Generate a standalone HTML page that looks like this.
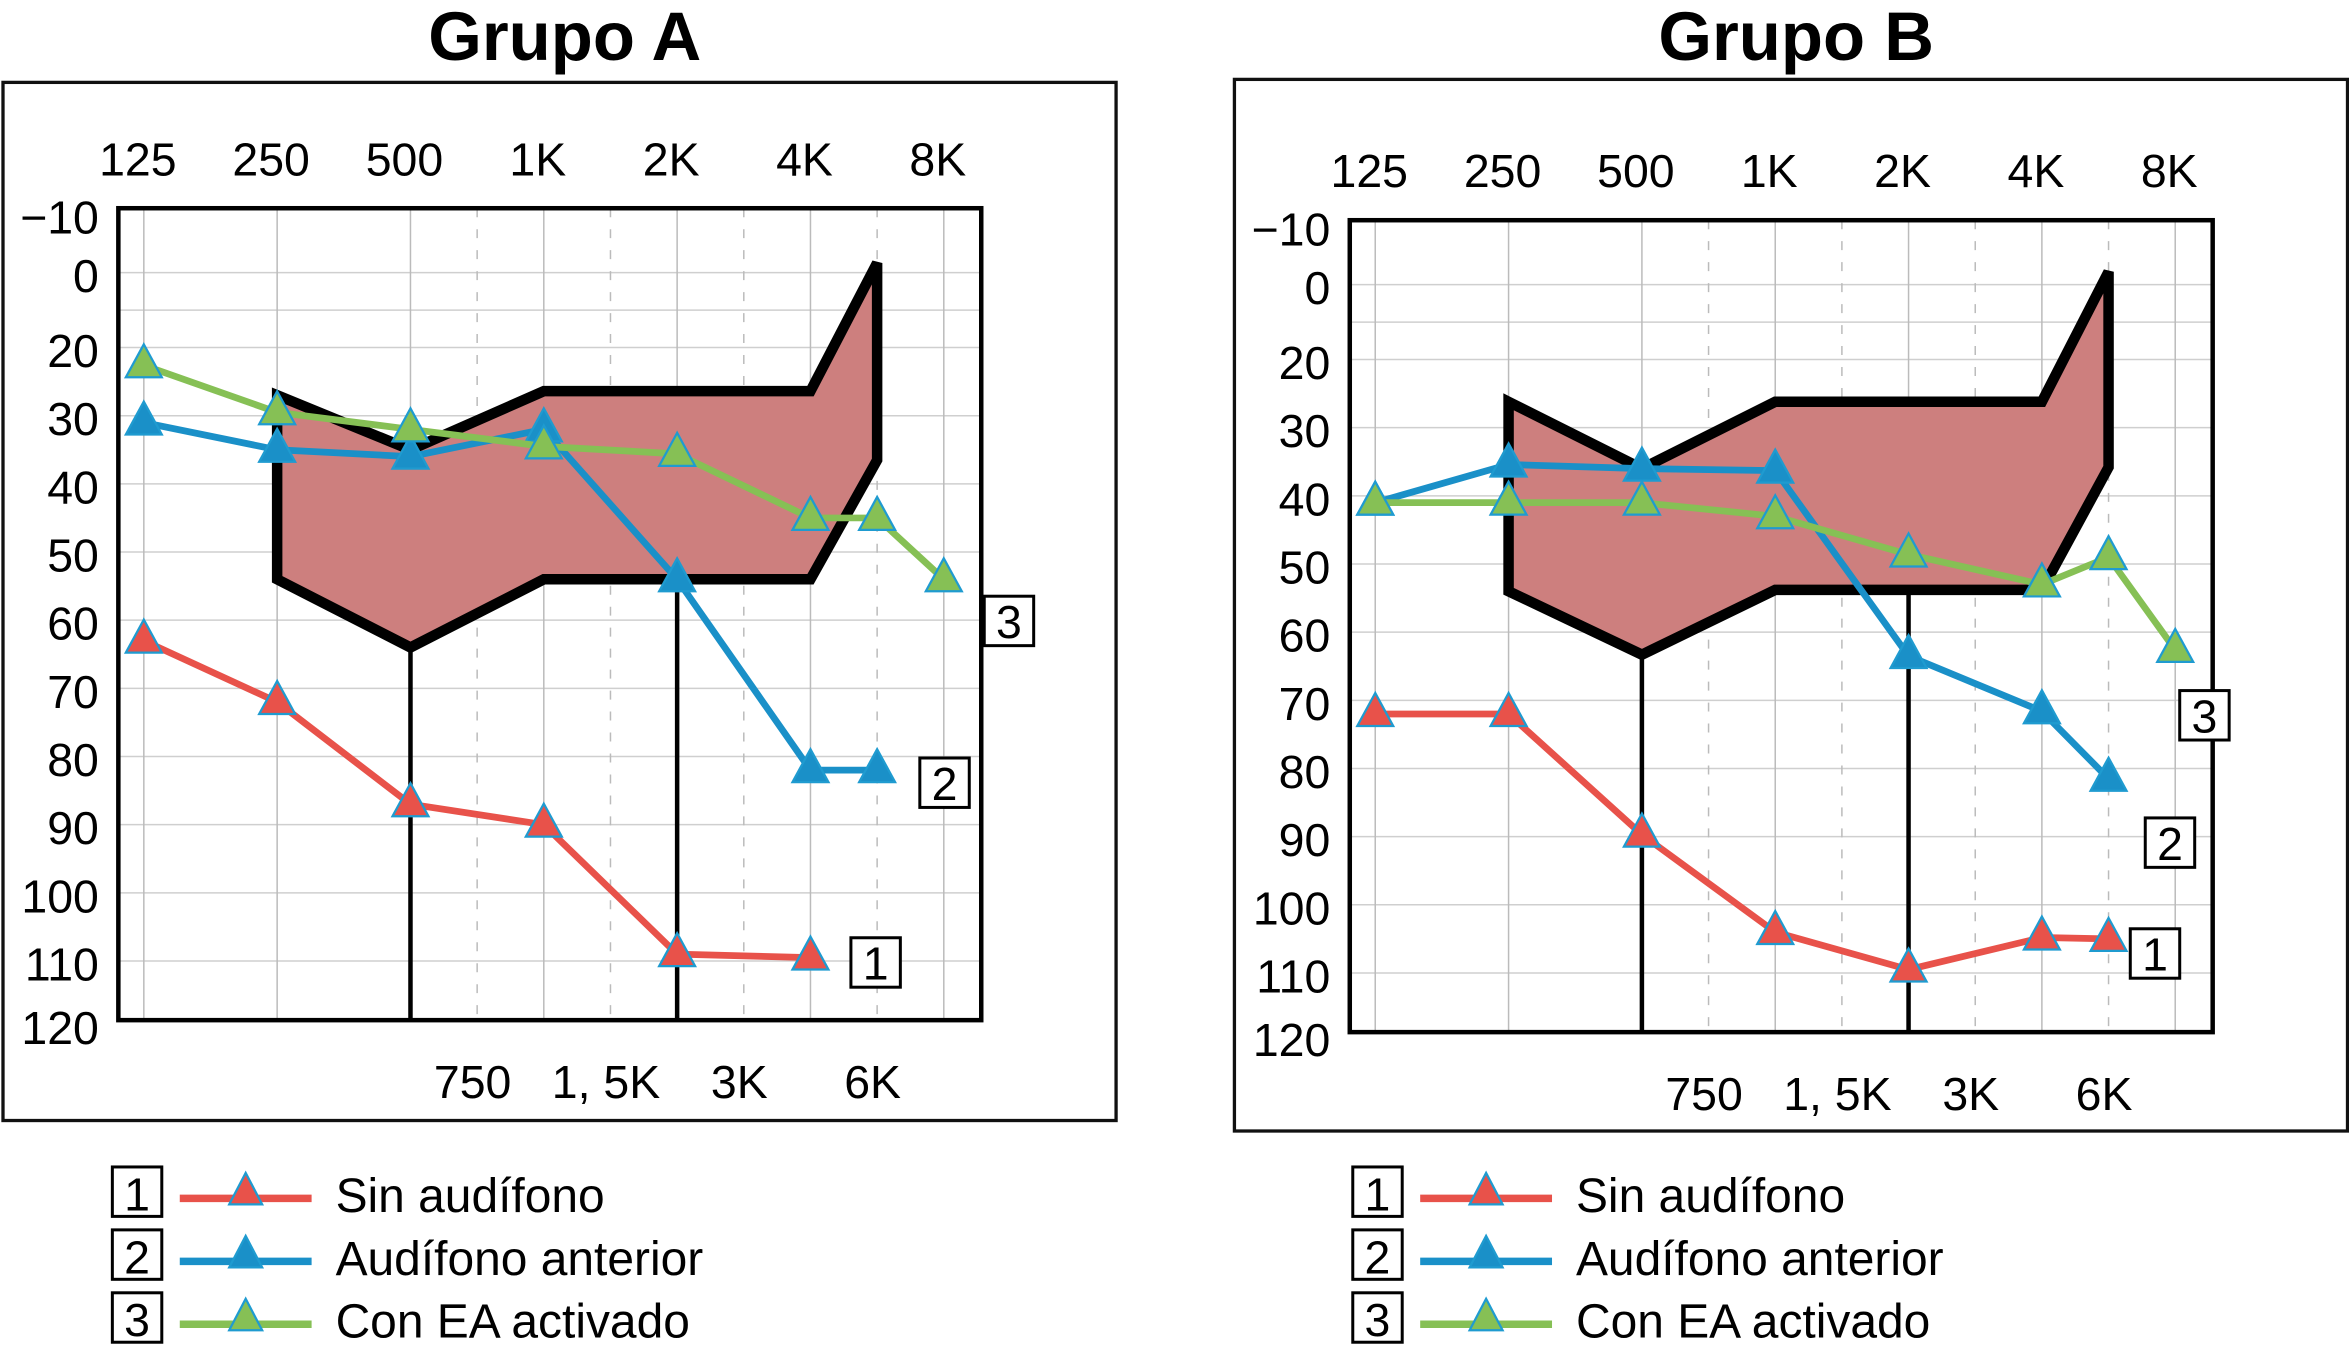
<!DOCTYPE html>
<html><head><meta charset="utf-8">
<style>
html,body{margin:0;padding:0;background:#fff;}
svg{display:block;font-family:"Liberation Sans",Arial,sans-serif;}
</style></head>
<body>
<svg id="chart" xmlns="http://www.w3.org/2000/svg" width="2349" height="1362" viewBox="0 0 1568 909.2" preserveAspectRatio="none">
</svg>
<script>
// frequency index (half-octave steps): 125=0,250=2,500=4,750=5,1K=6,1.5K=7,2K=8,3K=9,4K=10,6K=11,8K=12
const topFreqLabels = ["125","250","500","1K","2K","4K","8K"];
const topFreqIdx = [0,2,4,6,8,10,12];
const bottomFreqLabels = ["750","1, 5K","3K","6K"];
const bottomFreqIdx = [5,7,9,11];
const yTickLabels = ["\u221210","0","20","30","40","50","60","70","80","90","100","110","120"];
const yTickValues = [-10,0,20,30,40,50,60,70,80,90,100,110,120];
const gridDb = [0,10,20,30,40,50,60,70,80,90,100,110];

// Grupo A
const aRedIdx = [0,2,4,6,8,10];
const aRedDb = [63,72,87,90,109,109.5];
const aBlueIdx = [0,2,4,6,8,10,11];
const aBlueDb = [31,35,36,32,54,82,82];
const aGreenIdx = [0,2,4,6,8,10,11,12];
const aGreenDb = [22.6,29.5,32,34.5,35.6,45,45,54];
const aAreaIdx = [2,4,6,10,11,11,10,6,4,2];
const aAreaDb = [27,35,26.4,26.4,-1.5,36.5,54,54,64,54];

// Grupo B
const bRedIdx = [0,2,4,6,8,10,11];
const bRedDb = [72,72,89.7,104,109.5,104.8,105];
const bBlueIdx = [0,2,4,6,8,10,11];
const bBlueDb = [41,35.4,36,36.3,63.5,71.6,81.5];
const bGreenIdx = [0,2,4,6,8,10,11,12];
const bGreenDb = [41,41,41,43,48.6,53,49,62.6];
const bAreaIdx = [2,4,6,10,11,11,10,6,4,2];
const bAreaDb = [26.2,36,26.2,26.2,-2,35.8,53.8,53.8,63.3,54];

const legendLabels = ["Sin aud\u00edfono","Aud\u00edfono anterior","Con EA activado"];
const legendNums = ["1","2","3"];

const NS = "http://www.w3.org/2000/svg";
const svg = document.getElementById("chart");
function mk(tag, attrs, parent, text){
  const e = document.createElementNS(NS, tag);
  for (const k in attrs) e.setAttribute(k, attrs[k]);
  if (text !== undefined) e.textContent = text;
  (parent || svg).appendChild(e);
  return e;
}
const RED = "#e8524a", BLUE = "#1a90c8", GREEN = "#86c055";

function panel(cfg){
  const g = mk("g", {});
  
  
  const ox = cfg.ox, oy = cfg.oy;
  const xs = i => ox + 96 + i * 44.5;
  const ys = v => oy + (v >= 20 ? 232 + (v - 20) * 4.55 : (v >= 0 ? 182 + v * 2.5 : 182 + v * 4.3));

  const title = mk("text", {x: ox + 377, y: 40, "text-anchor":"middle", "font-size":46, "font-weight":"bold"}, g, cfg.title);
  
  

  const frame = mk("rect", {x: ox + 2, y: cfg.fy, width: 743, height: cfg.fh, fill:"none", stroke:"#111", "stroke-width":2.2}, g);
  
  

  const px0 = ox + 79, px1 = ox + 655, py0 = oy + 139, py1 = oy + 681;
  gridDb.forEach(v => {
    const l = mk("line", {x1: px0, x2: px1, y1: ys(v), y2: ys(v), stroke:"#cfcfcf", "stroke-width":1}, g);
    
    
  });
  topFreqIdx.forEach(i => {
    const l = mk("line", {x1: xs(i), x2: xs(i), y1: py0, y2: py1, stroke:"#bbb", "stroke-width":1}, g);
    
    
  });
  bottomFreqIdx.forEach(i => {
    const l = mk("line", {x1: xs(i), x2: xs(i), y1: py0, y2: py1, stroke:"#bbb", "stroke-width":1, "stroke-dasharray":"6,8"}, g);
    
    
  });
  const pts = cfg.areaIdx.map((i, k) => xs(i) + "," + ys(cfg.areaDb[k])).join(" ");
  const area = mk("polygon", {points: pts, fill:"#cd7f7e", stroke:"#000", "stroke-width":7, "stroke-linejoin":"miter"}, g);
  
  
  [[4, cfg.areaDb[8]], [8, cfg.areaDb[6]]].forEach(([i, v]) => {
    const l = mk("line", {x1: xs(i), x2: xs(i), y1: ys(v), y2: py1, stroke:"#000", "stroke-width":3}, g);
    
    
  });
  const pf = mk("rect", {x: px0, y: py0, width: px1 - px0, height: py1 - py0, fill:"none", stroke:"#000", "stroke-width":3}, g);
  
  

  topFreqLabels.forEach((t, k) => {
    const e = mk("text", {x: xs(topFreqIdx[k]) - 4, y: oy + 117, "text-anchor":"middle", "font-size":31}, g, t);
    
    
  });
  bottomFreqLabels.forEach((t, k) => {
    const e = mk("text", {x: xs(bottomFreqIdx[k]) - 3, y: oy + 733, "text-anchor":"middle", "font-size":31}, g, t);
    
    
  });
  yTickLabels.forEach((t, k) => {
    let yy = ys(yTickValues[k]) + 13;
    if (yTickValues[k] === -10) yy = oy + 156;
    if (yTickValues[k] === 120) yy = oy + 697;
    const e = mk("text", {x: ox + 66, y: yy, "text-anchor":"end", "font-size":31}, g, t);
    
    
  });

  const series = [
    [cfg.redIdx, cfg.redDb, RED, "series-sin-audifono"],
    [cfg.blueIdx, cfg.blueDb, BLUE, "series-audifono-anterior"],
    [cfg.greenIdx, cfg.greenDb, GREEN, "series-con-ea"]
  ];
  series.forEach(([idx, db, col, nm]) => {
    const sg = mk("g", {}, g);
    
    
    const p = idx.map((i, k) => xs(i) + "," + ys(db[k])).join(" ");
    const pl = mk("polyline", {points: p, fill:"none", stroke: col, "stroke-width":4.5, "stroke-linejoin":"round"}, sg);
    
    
    idx.forEach((i, k) => {
      const x = xs(i), y = ys(db[k]);
      const tri = mk("polygon", {points: `${x},${y-14} ${x-12},${y+8} ${x+12},${y+8}`, fill: col, stroke:"#1f9bd0", "stroke-width":1.5}, sg);
      
      
    });
  });

  cfg.boxes.forEach(([bx, by, t]) => {
    const bg = mk("g", {}, g);
    
    
    mk("rect", {x: ox + bx, y: oy + by, width: 33, height: 33, fill:"#fff", stroke:"#000", "stroke-width":2}, bg);
    mk("text", {x: ox + bx + 16.5, y: oy + by + 28, "text-anchor":"middle", "font-size":31}, bg, t);
  });

  const lx = cfg.ox + cfg.lx;
  const lg = mk("g", {}, g);
  
  
  const cols = [RED, BLUE, GREEN];
  legendLabels.forEach((t, k) => {
    const cy = 797 + k * 42;
    const eg = mk("g", {}, lg);
    
    
    mk("rect", {x: lx, y: cy - 18, width: 33, height: 33, fill:"#fff", stroke:"#000", "stroke-width":2}, eg);
    mk("text", {x: lx + 16.5, y: cy + 11, "text-anchor":"middle", "font-size":31}, eg, legendNums[k]);
    mk("line", {x1: lx + 45, x2: lx + 133, y1: cy + 3, y2: cy + 3, stroke: cols[k], "stroke-width":5}, eg);
    const x = lx + 89, y = cy;
    mk("polygon", {points: `${x},${y-14} ${x-11},${y+7} ${x+11},${y+7}`, fill: cols[k], stroke:"#1f9bd0", "stroke-width":1.5}, eg);
    mk("text", {x: lx + 149, y: cy + 12, "font-size":32}, eg, t);
  });
}

panel({name:"panel-grupo-a", title:"Grupo A", ox:0, oy:0, fy:55, fh:693, lx:75,
  redIdx:aRedIdx, redDb:aRedDb, blueIdx:aBlueIdx, blueDb:aBlueDb, greenIdx:aGreenIdx, greenDb:aGreenDb,
  areaIdx:aAreaIdx, areaDb:aAreaDb,
  boxes:[[657,398,"3"],[614,506,"2"],[568,626,"1"]]});
panel({name:"panel-grupo-b", title:"Grupo B", ox:822, oy:8, fy:53, fh:702, lx:81,
  redIdx:bRedIdx, redDb:bRedDb, blueIdx:bBlueIdx, blueDb:bBlueDb, greenIdx:bGreenIdx, greenDb:bGreenDb,
  areaIdx:bAreaIdx, areaDb:bAreaDb,
  boxes:[[633,453,"3"],[610,538,"2"],[600,612,"1"]]});
</script>
</body></html>
